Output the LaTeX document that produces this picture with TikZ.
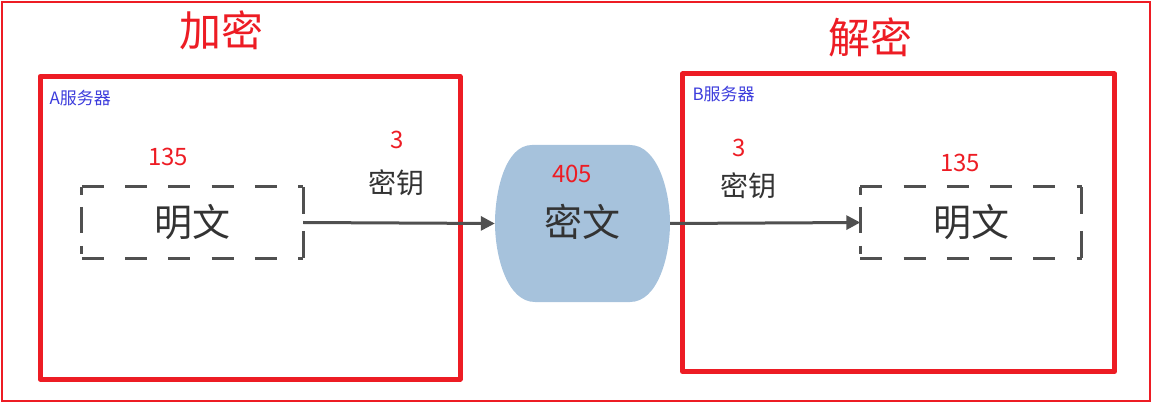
\documentclass[tikz,border=0pt]{standalone}
\usepackage{fontspec}
\setmainfont{Noto Sans CJK SC}
\newfontfamily\cjk{Noto Sans CJK SC}
\usetikzlibrary{arrows.meta}
\definecolor{frame}{HTML}{ED1C24}
\definecolor{labelblue}{HTML}{3C3CDC}
\definecolor{ink}{HTML}{333333}
\definecolor{linegray}{HTML}{505050}
\definecolor{cipherfill}{HTML}{A6C2DC}
\tikzset{
  serverbox/.style={draw=frame, line width=5pt, line join=round},
  plainbox/.style={minimum width=221pt, minimum height=71pt, inner sep=0pt,
    font=\cjk\fontsize{38}{40}\selectfont, text=ink},
  dashline/.style={draw=linegray, line width=3pt, dash pattern=on 24pt off 18pt},
  flow/.style={draw=linegray, line width=3pt, -{Triangle[length=14pt,width=14pt]}},
  title/.style={font=\cjk\fontsize{42}{44}\selectfont, text=frame},
  server/.style={font=\cjk\fontsize{17}{19}\selectfont, text=labelblue, anchor=west},
  num/.style={font=\cjk\fontsize{24}{26}\selectfont, text=frame},
  keylabel/.style={font=\cjk\fontsize{28}{30}\selectfont, text=ink}
}
\begin{document}
\begin{tikzpicture}[x=1pt,y=-1pt]
\useasboundingbox (0,0) rectangle (1154,406);
% outer frame
\draw[frame, line width=2pt] (2,2) rectangle (1150,401);
% titles
\node[title] (enc) at (221,30) {加密};
\node[title] (dec) at (870,37) {解密};
% server frames
\draw[serverbox] (40,76.5) rectangle (460,379);
\draw[serverbox] (682.5,74) rectangle (1114.5,371.5);
\node[server] (srvA) at (46,98) {A服务器};
\node[server] (srvB) at (689,94) {B服务器};
% plaintext boxes, each side dashed from its corners
\node[plainbox] (plainA) at (192.5,222.5) {明文};
\node[plainbox] (plainB) at (971,222.5) {明文};
\foreach \p in {plainA,plainB}{
  \draw[dashline, dash pattern=on 22pt off 21.25pt] (\p.north west) -- (\p.north east);
  \draw[dashline, dash pattern=on 22pt off 21.25pt] (\p.south west) -- (\p.south east);
  \draw[dashline, dash pattern=on 27pt off 17pt] (\p.north east) -- (\p.south east);
  \draw[dashline, dash pattern=on 8pt off 12pt on 26pt off 13pt] (\p.north west) -- (\p.south west);
}
% ciphertext barrel
\node[minimum width=175pt, minimum height=157pt, inner sep=0pt] (cipher) at (582.5,223.5) {};
\fill[cipherfill] (532,145) -- (630,145)
  .. controls (658,145) and (670,192) .. (670,223)
  .. controls (670,256) and (658,302) .. (630,302)
  -- (535,302)
  .. controls (507,302) and (495,256) .. (495,223)
  .. controls (495,192) and (505,145) .. (532,145) -- cycle;
\node[font=\cjk\fontsize{38}{40}\selectfont, text=ink] (ctext) at (582,222) {密文};
\node[num] (n405) at (572,174) {405};
% arrows
\draw[flow] (plainA.east) -- (cipher.west);
\draw[flow] (cipher.east) -- (plainB.west);
% key labels and numbers
\node[num] (kA) at (397,140) {3};
\node[keylabel] (keyA) at (396,183) {密钥};
\node[num] (kB) at (739,148) {3};
\node[keylabel] (keyB) at (748,186) {密钥};
\node[num] (pA) at (168,157) {135};
\node[num] (pB) at (960,163) {135};
\end{tikzpicture}
\end{document}
